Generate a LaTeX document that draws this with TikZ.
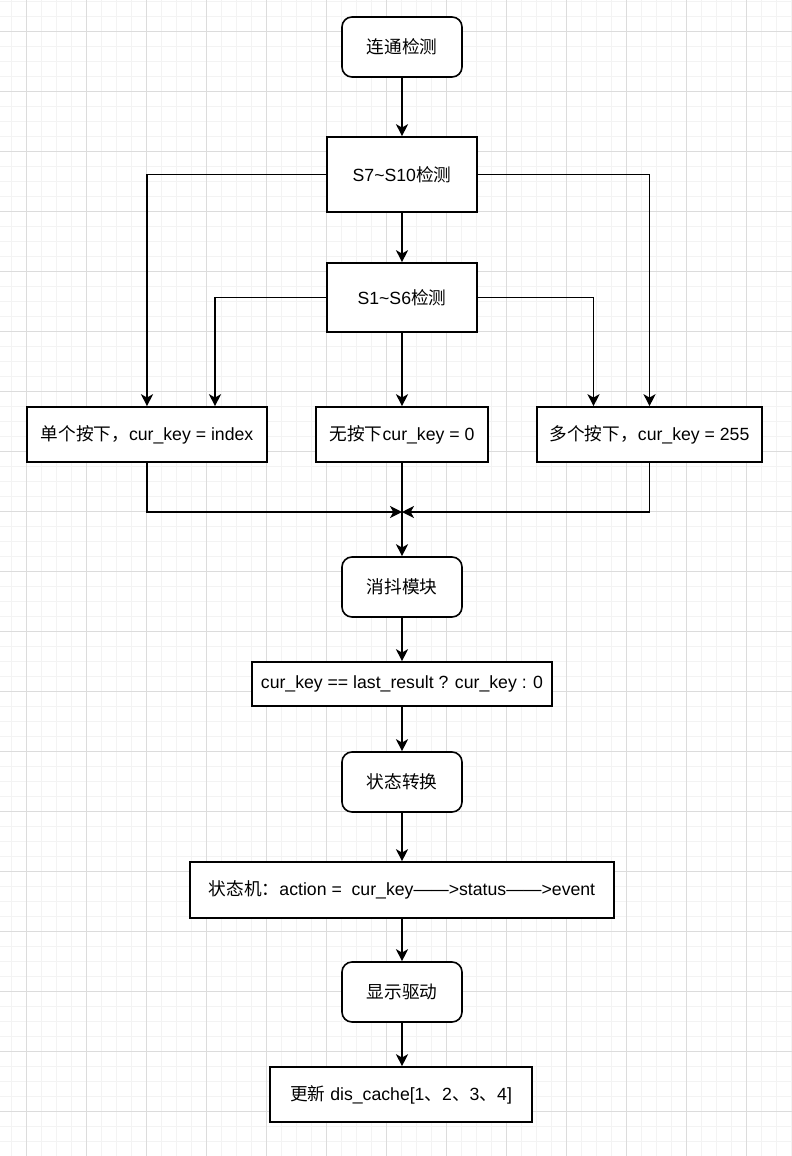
\documentclass[tikz,border=0pt]{standalone}
\usepackage{fontspec}
\setmainfont{Liberation Sans}
\newfontfamily\cjkfont{Noto Sans CJK SC}
\newcommand{\zhtext}[1]{{\cjkfont #1}}
\usetikzlibrary{arrows.meta}
\definecolor{ink}{HTML}{000000}
\definecolor{gridminor}{HTML}{F3F3F3}
\definecolor{gridmajor}{HTML}{DCDCDC}

\begin{document}
\begin{tikzpicture}[
  x=0.75pt, y=-0.75pt,
  font=\fontsize{13.25pt}{15pt}\selectfont,
  text=ink,
  box/.style={
    draw=ink,
    line width=1.2pt,
    fill=white,
    align=center,
    inner sep=0pt,
    minimum height=41.25pt
  },
  stage/.style={
    box,
    rounded corners=7.5pt,
    minimum width=90pt,
    minimum height=45pt
  },
  detect/.style={box, minimum width=112.5pt},
  arrow/.style={-{Stealth[length=9pt,width=9pt,inset=2.5pt]}, line width=1.2pt, draw=ink}
]

\useasboundingbox (0,0) rectangle (792,1156);

% Background grid
\foreach \gx in {11,26,...,791} \draw[gridminor, line width=0.6pt] (\gx,0) -- (\gx,1156);
\foreach \gy in {1,16,...,1156} \draw[gridminor, line width=0.6pt] (0,\gy) -- (792,\gy);
\foreach \gx in {26,86,...,746} \draw[gridmajor, line width=0.6pt] (\gx,0) -- (\gx,1156);
\foreach \gy in {31,91,...,1111} \draw[gridmajor, line width=0.6pt] (0,\gy) -- (792,\gy);

% Key detection
\node[stage] (connect) at (402,47) {\zhtext{连通检测}};
\node[detect, minimum height=56.25pt] (s7s10) at (402,174.5) {S7\textasciitilde S10\zhtext{检测}};
\node[detect, minimum height=51.75pt] (s1s6) at (402,297.5) {S1\textasciitilde S6\zhtext{检测}};

\draw[arrow] (connect) -- (s7s10);
\draw[arrow] (s7s10) -- (s1s6);

% Key results
\node[box, minimum width=180pt] (single) at (147,434.5) {\zhtext{单个按下，}cur\_key = index};
\node[box, minimum width=129pt] (nokey) at (402,434.5) {\zhtext{无按下}cur\_key = 0};
\node[box, minimum width=168.75pt] (multi) at (649.5,434.5) {\zhtext{多个按下，}cur\_key = 255};

\draw[arrow] (s7s10.west) -| (single.north);
\draw[arrow] (s7s10.east) -| (multi.north);
\draw[arrow] (s1s6.west) -| ([xshift=51pt]single.north);
\draw[arrow] (s1s6.east) -| ([xshift=-42pt]multi.north);
\draw[arrow] (s1s6) -- (nokey);

% Debounce, state machine and display
\coordinate (merge) at (402,512);
\node[stage] (debounce) at (402,587) {\zhtext{消抖模块}};
\node[box, minimum width=225pt, minimum height=33pt] (compare) at (402,684) {cur\_key == last\_result ? cur\_key : 0};
\node[stage] (convert) at (402,782) {\zhtext{状态转换}};
\node[box, minimum width=318pt, minimum height=42pt] (fsm) at (402,890) {\zhtext{状态机：}action =\ \ cur\_key——>status——>event};
\node[stage] (display) at (402,992) {\zhtext{显示驱动}};
\node[box, minimum width=196.5pt] (update) at (401,1094.5) {\zhtext{更新} dis\_cache[1\zhtext{、}2\zhtext{、}3\zhtext{、}4]};

\draw[arrow] (single.south) |- (merge);
\draw[arrow] (multi.south) |- (merge);
\draw[arrow] (nokey) -- (debounce);
\draw[arrow] (debounce) -- (compare);
\draw[arrow] (compare) -- (convert);
\draw[arrow] (convert) -- (fsm);
\draw[arrow] (fsm) -- (display);
\draw[arrow] (display.south) -- (update.north -| display.south);

\end{tikzpicture}
\end{document}
